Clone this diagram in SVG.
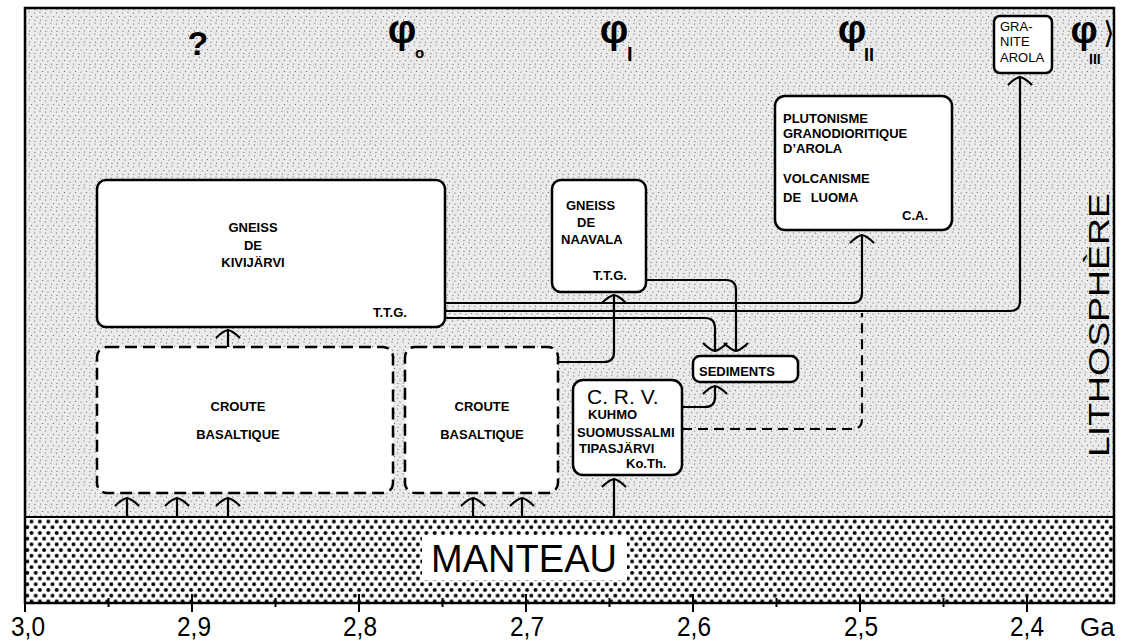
<svg xmlns="http://www.w3.org/2000/svg" width="1121" height="644" viewBox="0 0 1121 644">
<style>
.t{font-family:"Liberation Sans",Arial,sans-serif;fill:#000}
.b{font-weight:bold;font-size:13px}
.ax{font-size:27px;text-anchor:middle}
.sym{font-weight:bold}
.box{fill:#fff;stroke:#000;stroke-width:2.5}
.dbox{fill:#fff;stroke:#000;stroke-width:2.5;stroke-dasharray:12 6}
.c{fill:none;stroke:#000;stroke-width:2.2}
</style>
<defs>
<pattern id="stip" width="11" height="11" patternUnits="userSpaceOnUse">
<rect width="11" height="11" fill="#ebebeb"/>
<circle cx="1.5" cy="2" r="0.6" fill="#555"/>
<circle cx="7" cy="1" r="0.6" fill="#555"/>
<circle cx="4" cy="6" r="0.6" fill="#555"/>
<circle cx="9.5" cy="5.5" r="0.6" fill="#555"/>
<circle cx="2" cy="9.5" r="0.6" fill="#555"/>
<circle cx="7.5" cy="9" r="0.6" fill="#555"/>
</pattern>
<pattern id="dots" width="8.4" height="11.4" patternUnits="userSpaceOnUse">
<rect width="8.4" height="11.4" fill="#fff"/>
<circle cx="2.1" cy="2.85" r="2" fill="#000"/>
<circle cx="6.3" cy="8.55" r="2" fill="#000"/>
</pattern>
<marker id="ah" markerUnits="userSpaceOnUse" viewBox="-15 -15 30 30" markerWidth="30" markerHeight="30" refX="0" refY="0" orient="auto" overflow="visible">
<path d="M-8,-12 Q-1,-5 0,0 Q-1,5 -8,12" fill="none" stroke="#000" stroke-width="2.2"/>
</marker>
</defs>

<g id="background">
<rect x="25" y="8" width="1089" height="509" fill="url(#stip)"/>
<rect x="25" y="517" width="1089" height="86" fill="url(#dots)"/>
<rect x="25" y="8" width="1089" height="595" fill="none" stroke="#000" stroke-width="2.5"/>
<line x1="25" y1="517" x2="1114" y2="517" stroke="#000" stroke-width="2.2"/>
</g>

<g id="mantle">
<rect x="422" y="535" width="205" height="45" fill="#fff"/>
<text class="t" x="431" y="572" font-size="38" textLength="186" lengthAdjust="spacing">MANTEAU</text>
</g>

<g id="axis" stroke="#000" stroke-width="2">
<line x1="25" y1="594" x2="25" y2="612"/>
<line x1="192" y1="594" x2="192" y2="612"/>
<line x1="359" y1="594" x2="359" y2="612"/>
<line x1="526" y1="594" x2="526" y2="612"/>
<line x1="693" y1="594" x2="693" y2="612"/>
<line x1="860" y1="594" x2="860" y2="612"/>
<line x1="1027" y1="594" x2="1027" y2="612"/>
<line x1="108.5" y1="598" x2="108.5" y2="607"/>
<line x1="275.5" y1="598" x2="275.5" y2="607"/>
<line x1="442.5" y1="598" x2="442.5" y2="607"/>
<line x1="609.5" y1="598" x2="609.5" y2="607"/>
<line x1="776.5" y1="598" x2="776.5" y2="607"/>
<line x1="943.5" y1="598" x2="943.5" y2="607"/>
</g>
<g id="axis-labels">
<text class="t ax" x="28" y="636" textLength="34" lengthAdjust="spacingAndGlyphs">3,0</text>
<text class="t ax" x="194" y="636" textLength="34" lengthAdjust="spacingAndGlyphs">2,9</text>
<text class="t ax" x="360" y="636" textLength="34" lengthAdjust="spacingAndGlyphs">2,8</text>
<text class="t ax" x="527" y="636" textLength="34" lengthAdjust="spacingAndGlyphs">2,7</text>
<text class="t ax" x="694" y="636" textLength="34" lengthAdjust="spacingAndGlyphs">2,6</text>
<text class="t ax" x="861" y="636" textLength="34" lengthAdjust="spacingAndGlyphs">2,5</text>
<text class="t ax" x="1027" y="636" textLength="34" lengthAdjust="spacingAndGlyphs">2,4</text>
<text class="t" x="1080" y="636" font-size="26">Ga</text>
</g>

<g id="phases">
<text class="t sym" x="198" y="55" font-size="34" text-anchor="middle">?</text>
<text class="t sym" x="402" y="43" font-size="40" text-anchor="middle">φ</text>
<text class="t sym" x="415" y="58" font-size="15">o</text>
<text class="t sym" x="614" y="43" font-size="40" text-anchor="middle">φ</text>
<text class="t sym" x="627" y="61" font-size="20">I</text>
<text class="t sym" x="852" y="43" font-size="40" text-anchor="middle">φ</text>
<text class="t sym" x="864" y="61" font-size="18">II</text>
<text class="t sym" x="1084" y="43" font-size="38" text-anchor="middle">φ</text>
<text class="t sym" x="1089" y="64" font-size="14">III</text>
<text class="t" x="1103" y="43" font-size="30">⟩</text>
</g>

<g id="lithosphere-label">
<text class="t" transform="translate(1109,457) rotate(-90)" font-size="30" textLength="264" lengthAdjust="spacingAndGlyphs">LITHOSPHÈRE</text>
</g>

<g id="connectors">
<path class="c" marker-end="url(#ah)" d="M127,517 V498"/>
<path class="c" marker-end="url(#ah)" d="M177,517 V498"/>
<path class="c" marker-end="url(#ah)" d="M228,517 V498"/>
<path class="c" marker-end="url(#ah)" d="M473,517 V498"/>
<path class="c" marker-end="url(#ah)" d="M522,517 V498"/>
<path class="c" marker-end="url(#ah)" d="M614,517 V479"/>
<path class="c" marker-end="url(#ah)" d="M228,347 V330"/>
<path class="c" marker-end="url(#ah)" d="M558,362 H604 Q614,362 614,352 V295"/>
<path class="c" marker-end="url(#ah)" d="M445,303 H852 Q862,303 862,293 V235"/>
<path class="c" marker-end="url(#ah)" d="M445,311 H1010 Q1020,311 1020,301 V77"/>
<path class="c" marker-end="url(#ah)" d="M445,318 H705 Q715,318 715,328 V351"/>
<path class="c" marker-end="url(#ah)" d="M646,280 H726 Q736,280 736,290 V351"/>
<path class="c" marker-end="url(#ah)" d="M682,407 H705 Q715,407 715,397 V386"/>
<path class="c" stroke-dasharray="10 6" d="M682,429 H852 Q862,429 862,419 V313"/>
</g>

<g id="kivijarvi">
<rect class="box" x="97" y="180" width="348" height="147" rx="9"/>
<text class="t b" x="253" y="232" text-anchor="middle">GNEISS</text>
<text class="t b" x="253" y="250" text-anchor="middle">DE</text>
<text class="t b" x="253" y="267" text-anchor="middle">KIVIJÄRVI</text>
<text class="t b" x="373" y="317" font-size="12">T.T.G.</text>
</g>

<g id="naavala">
<rect class="box" x="552" y="180" width="94" height="112" rx="9"/>
<text class="t b" x="566" y="210">GNEISS</text>
<text class="t b" x="577" y="227">DE</text>
<text class="t b" x="561" y="244">NAAVALA</text>
<text class="t b" x="593" y="280" font-size="12">T.T.G.</text>
</g>

<g id="arola-luoma">
<rect class="box" x="775" y="96" width="177" height="134" rx="10"/>
<text class="t b" x="783" y="123">PLUTONISME</text>
<text class="t b" x="783" y="138">GRANODIORITIQUE</text>
<text class="t b" x="783" y="153">D’AROLA</text>
<text class="t b" x="783" y="183">VOLCANISME</text>
<text class="t b" x="783" y="202" word-spacing="6">DE LUOMA</text>
<text class="t b" x="902" y="220">C.A.</text>
</g>

<g id="granite-arola">
<rect class="box" x="994" y="16" width="58" height="57" rx="6"/>
<text class="t" x="1000" y="31" font-size="13">GRA-</text>
<text class="t" x="1000" y="46" font-size="13">NITE</text>
<text class="t" x="1000" y="62" font-size="13">AROLA</text>
</g>

<g id="croute1">
<rect class="dbox" x="97" y="347" width="296" height="146" rx="10"/>
<text class="t b" x="238" y="411" text-anchor="middle">CROUTE</text>
<text class="t b" x="238" y="439" text-anchor="middle">BASALTIQUE</text>
</g>

<g id="croute2">
<rect class="dbox" x="405" y="347" width="153" height="146" rx="10"/>
<text class="t b" x="482" y="411" text-anchor="middle">CROUTE</text>
<text class="t b" x="482" y="439" text-anchor="middle">BASALTIQUE</text>
</g>

<g id="crv">
<rect class="box" x="573" y="380" width="109" height="95" rx="10"/>
<text class="t" x="587" y="404" font-size="21">C. R. V.</text>
<text class="t b" x="588" y="419" font-size="12">KUHMO</text>
<text class="t b" x="577" y="437">SUOMUSSALMI</text>
<text class="t b" x="579" y="453">TIPASJÄRVI</text>
<text class="t b" x="626" y="468" font-size="12">Ko.Th.</text>
</g>

<g id="sediments">
<rect class="box" x="693" y="356" width="105" height="26" rx="7"/>
<text class="t b" x="699" y="376">SEDIMENTS</text>
</g>
</svg>
